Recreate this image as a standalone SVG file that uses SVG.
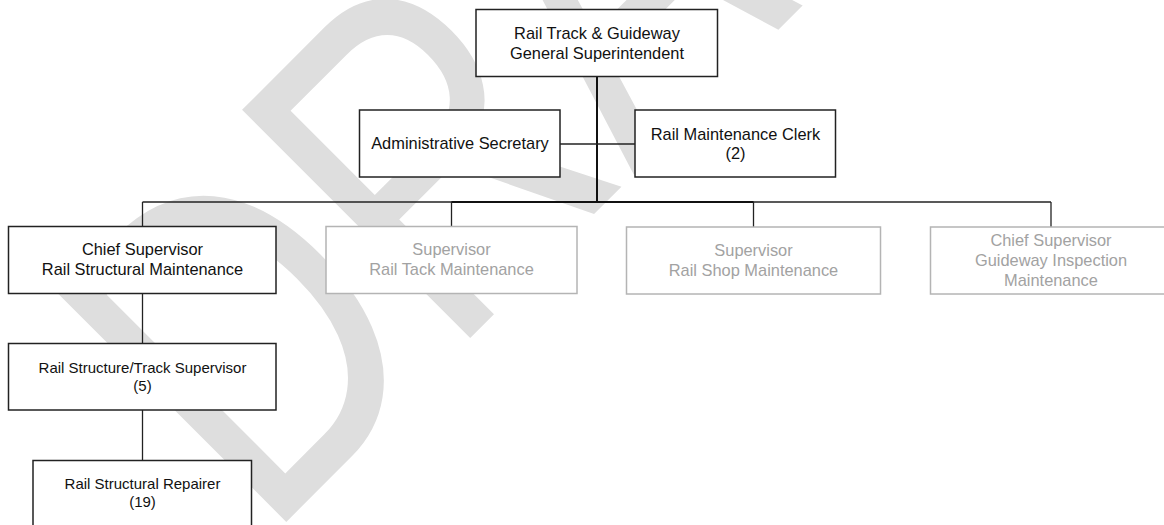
<svg xmlns="http://www.w3.org/2000/svg" width="1164" height="525" viewBox="0 0 1164 525">
  <style>
    .box { fill: #ffffff; stroke: #222222; stroke-width: 1.5; }
    .box-muted { fill: #ffffff; stroke: #b4b4b4; stroke-width: 1.5; }
    .lbl { font-family: "Liberation Sans", Arial, sans-serif; font-size: 16.4px; fill: #111111; text-anchor: middle; }
    .lbl-sm { font-family: "Liberation Sans", Arial, sans-serif; font-size: 15px; fill: #111111; text-anchor: middle; }
    .lbl-muted { font-family: "Liberation Sans", Arial, sans-serif; font-size: 16.4px; fill: #a2a2a2; text-anchor: middle; }
    .link { fill: none; stroke: #222222; stroke-width: 1.3; }
    .trunk { fill: none; stroke: #111111; stroke-width: 2; }
    .watermark { font-family: "Liberation Sans", Arial, sans-serif; font-size: 469px; fill: #dedede; }
  </style>

  <rect width="1164" height="525" fill="#ffffff"/>

  <!-- diagonal draft stamp behind the chart, letters stretched tall -->
  <text class="watermark" transform="translate(265.4,542.8) rotate(-45) scale(0.768,1)">DRAFT</text>

  <g id="connectors">
    <path class="trunk" d="M597,77 V202"/>
    <path class="link" d="M560,144 H635"/>
    <path class="link" d="M142.5,202 H1051" stroke="#333333" stroke-width="1.5"/>
    <path class="trunk" d="M451.5,202 H753.5"/>
    <path class="link" d="M142.5,202 V226.5"/>
    <path class="link" d="M451.5,202 V226.5"/>
    <path class="link" d="M753.5,202 V227"/>
    <path class="link" d="M1051,202 V227"/>
    <path class="link" d="M142.5,293.5 V343.5"/>
    <path class="link" d="M142.5,410 V460.5"/>
  </g>

  <g id="general-superintendent">
    <rect class="box" x="476" y="9.5" width="241.5" height="67"/>
    <text class="lbl" x="597" y="38.5">Rail Track &amp; Guideway</text>
    <text class="lbl" x="597" y="58.5">General Superintendent</text>
  </g>

  <g id="administrative-secretary">
    <rect class="box" x="359.5" y="110" width="200.5" height="67"/>
    <text class="lbl" x="460" y="148.5">Administrative Secretary</text>
  </g>

  <g id="maintenance-clerk">
    <rect class="box" x="635" y="110" width="200.5" height="67"/>
    <text class="lbl" x="735.5" y="139.5">Rail Maintenance Clerk</text>
    <text class="lbl" x="735.5" y="159">(2)</text>
  </g>

  <g id="chief-structural">
    <rect class="box" x="8.5" y="226.5" width="267.5" height="67"/>
    <text class="lbl" x="142.5" y="255">Chief Supervisor</text>
    <text class="lbl" x="142.5" y="275">Rail Structural Maintenance</text>
  </g>

  <g id="supervisor-tack">
    <rect class="box-muted" x="326" y="226.5" width="251" height="67"/>
    <text class="lbl-muted" x="451.5" y="255">Supervisor</text>
    <text class="lbl-muted" x="451.5" y="275">Rail Tack Maintenance</text>
  </g>

  <g id="supervisor-shop">
    <rect class="box-muted" x="626.5" y="227" width="254" height="67"/>
    <text class="lbl-muted" x="753.5" y="255.5">Supervisor</text>
    <text class="lbl-muted" x="753.5" y="275.5">Rail Shop Maintenance</text>
  </g>

  <g id="chief-guideway">
    <rect class="box-muted" x="930.5" y="227" width="244" height="67"/>
    <text class="lbl-muted" x="1051" y="245.5">Chief Supervisor</text>
    <text class="lbl-muted" x="1051" y="265.5">Guideway Inspection</text>
    <text class="lbl-muted" x="1051" y="285.5">Maintenance</text>
  </g>

  <g id="structure-track-supervisor">
    <rect class="box" x="8.5" y="343.5" width="267.5" height="66.5"/>
    <text class="lbl-sm" x="142.5" y="372.5">Rail Structure/Track Supervisor</text>
    <text class="lbl-sm" x="142.5" y="390.5">(5)</text>
  </g>

  <g id="structural-repairer">
    <rect class="box" x="33" y="460.5" width="218.5" height="80"/>
    <text class="lbl-sm" x="142.5" y="489">Rail Structural Repairer</text>
    <text class="lbl-sm" x="142.5" y="507">(19)</text>
  </g>
</svg>
